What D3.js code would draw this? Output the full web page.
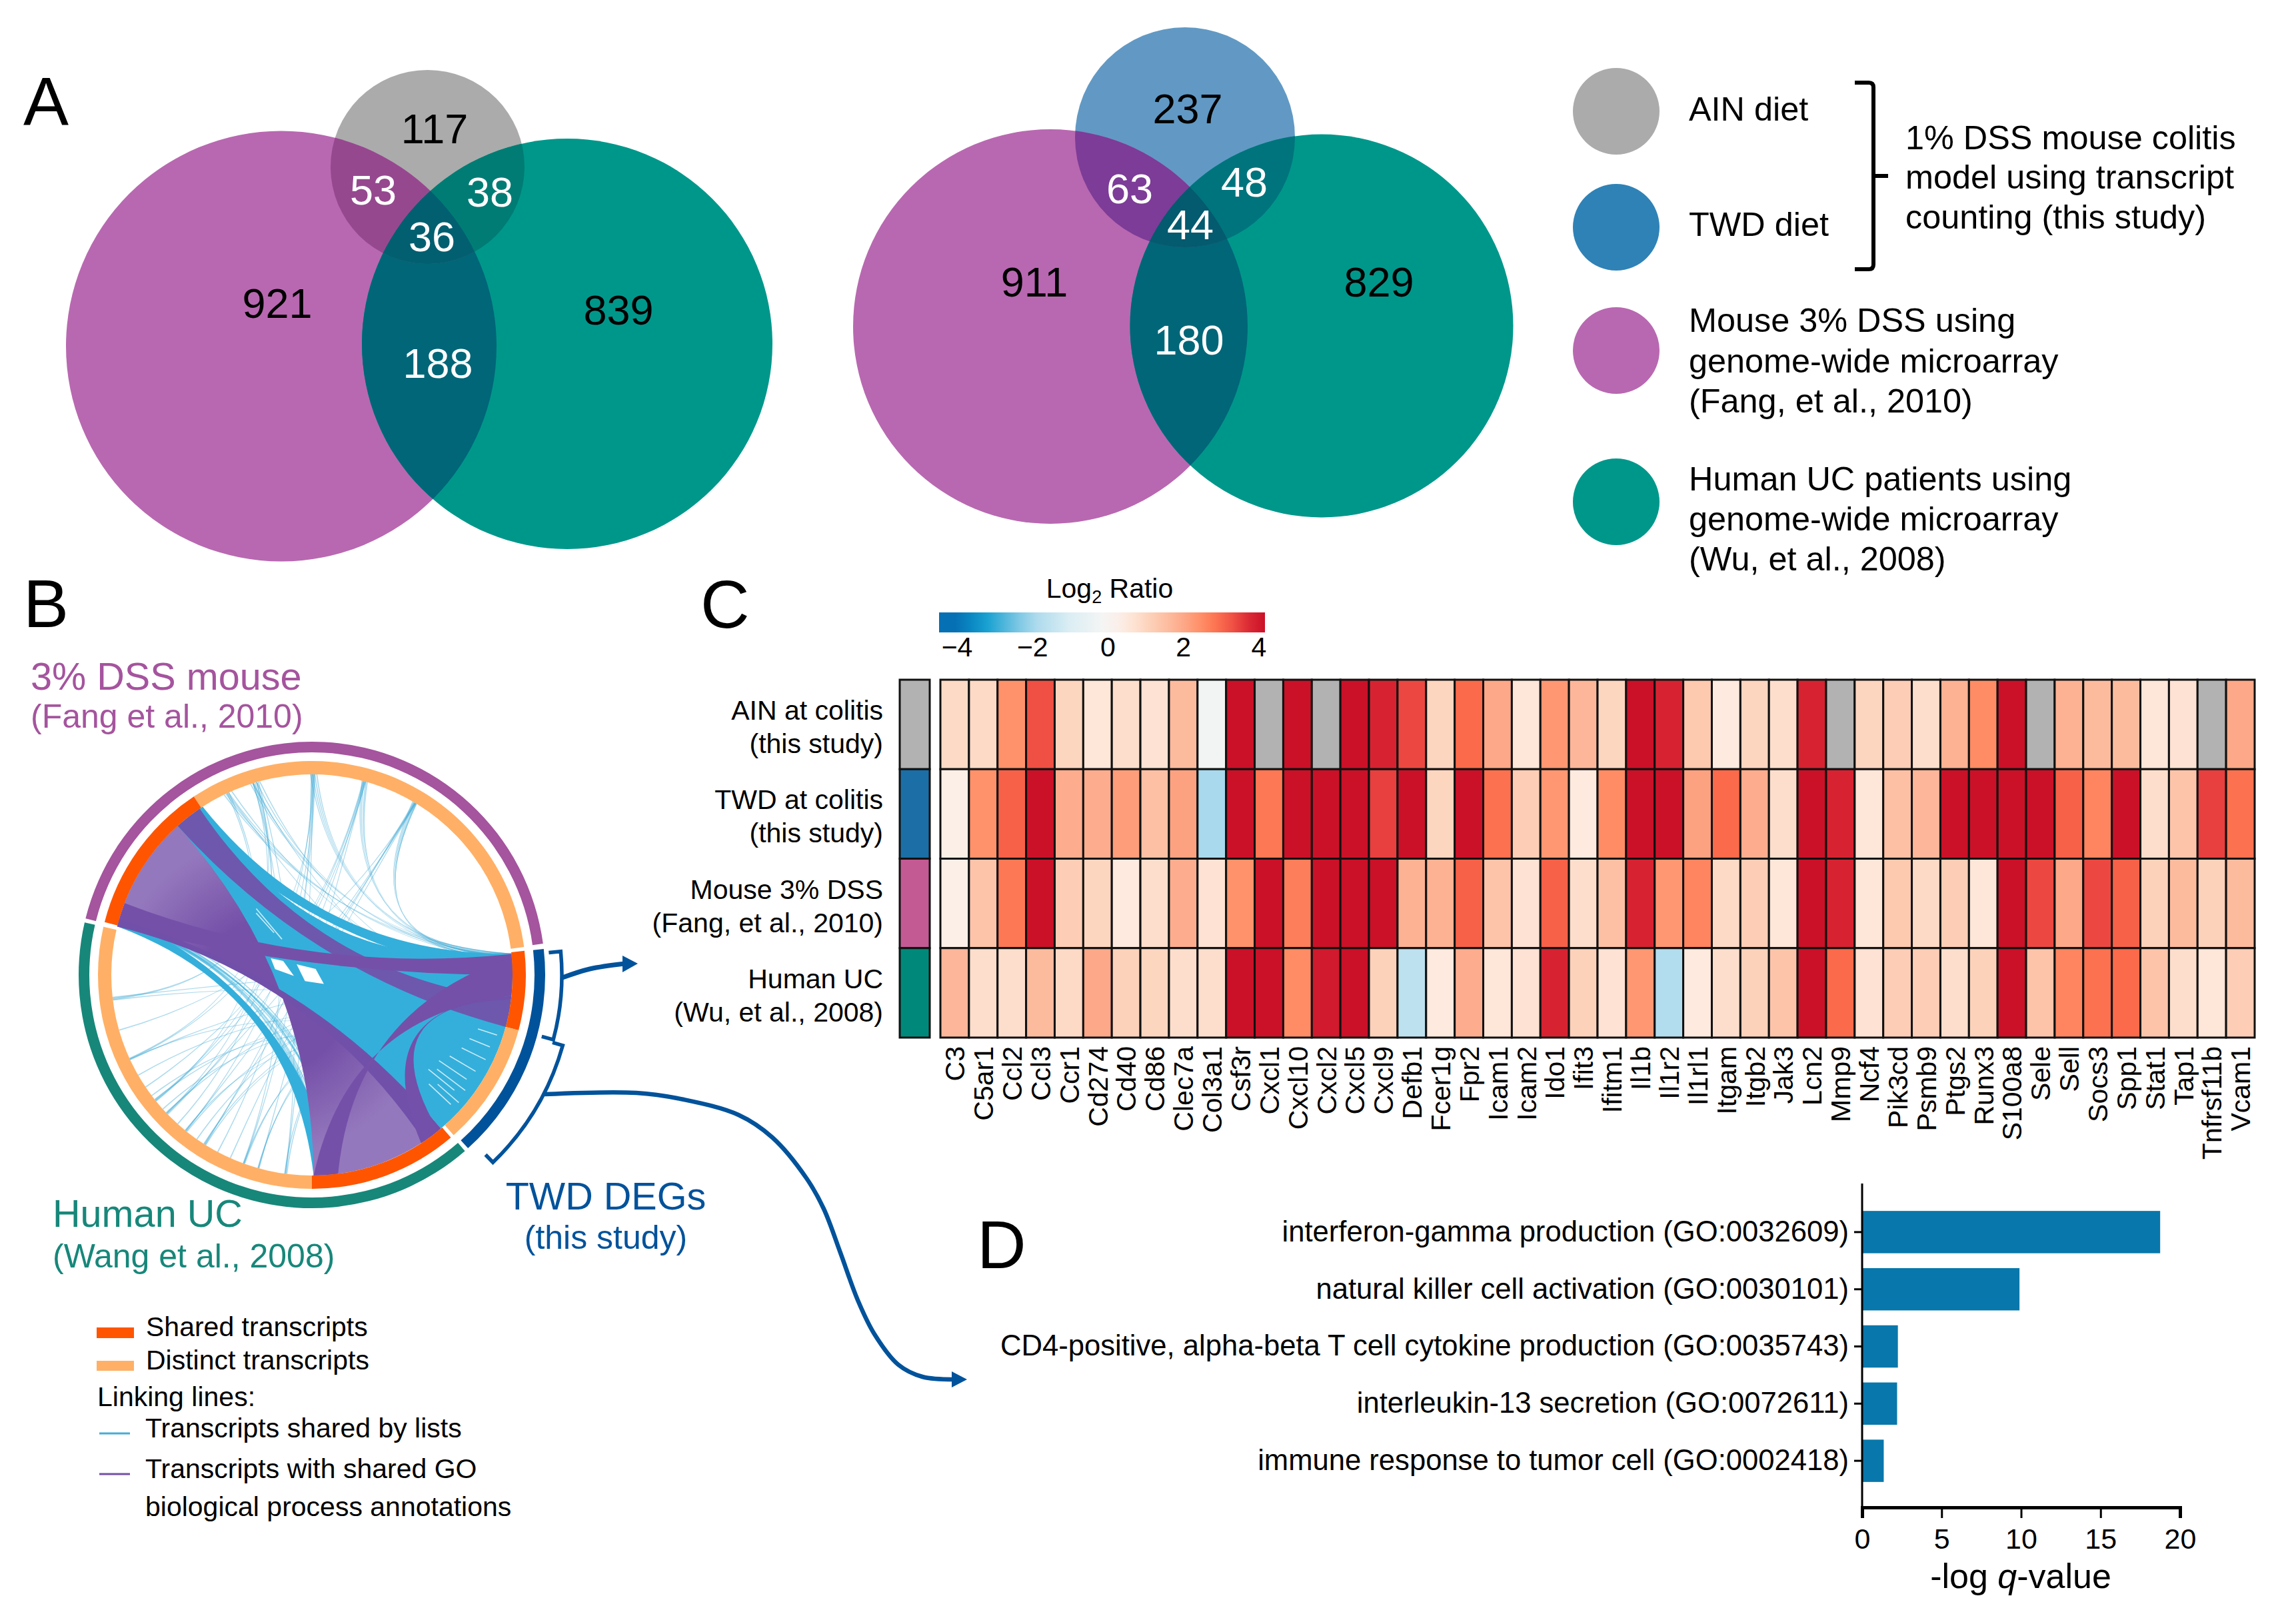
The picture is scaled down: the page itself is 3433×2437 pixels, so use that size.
<!DOCTYPE html>
<html><head><meta charset="utf-8">
<script src="https://cdn.jsdelivr.net/npm/d3@7"></script>
<style>
html,body{margin:0;padding:0;background:#fff}
svg{display:block}
text{font-family:"Liberation Sans",Arial,sans-serif;fill:#000}
</style></head><body>
<div id="chart"></div>
<script>
// ---------- Panel C data ----------
const genes=["C3","C5ar1","Ccl2","Ccl3","Ccr1","Cd274","Cd40","Cd86","Clec7a","Col3a1","Csf3r","Cxcl1","Cxcl10","Cxcl2","Cxcl5","Cxcl9","Defb1","Fcer1g","Fpr2","Icam1","Icam2","Ido1","Ifit3","Ifitm1","Il1b","Il1r2","Il1rl1","Itgam","Itgb2","Jak3","Lcn2","Mmp9","Ncf4","Pik3cd","Psmb9","Ptgs2","Runx3","S100a8","Sele","Sell","Socs3","Spp1","Stat1","Tap1","Tnfrsf11b","Vcam1"];
const ainValues=[0.9,0.9,2.4,3.3,1.0,0.6,0.8,0.7,1.6,-0.2,4,null,4,null,4,3.8,3.4,1.0,3.0,2.0,0.6,2.3,1.7,1.0,4,3.8,1.3,0.5,1.0,0.8,3.8,null,1.0,1.2,0.8,1.8,2.5,4,null,1.8,1.6,1.6,0.6,0.7,null,2.0];
const twdValues=[0.3,2.4,3.1,4,1.9,1.9,2.2,1.5,2.1,-2,4,2.8,4,4,4,3.5,4,1.0,4,2.9,1.2,2.3,0.5,2.5,4,4,2.1,3.0,1.9,0.8,4,3.8,0.6,1.5,1.7,4,4,4,4,3.1,2.6,4,0.8,1.4,3.5,2.9];
const mouseValues=[0.3,1.4,2.8,4,1.2,1.0,0.5,0.8,1.9,0.7,2.4,4,2.7,4,4,4,1.8,1.8,3.1,1.4,0.7,3.1,0.8,1.5,3.8,2.3,2.6,0.9,1.2,0.6,4,3.8,0.6,1.3,0.9,1.2,0.6,4,3.4,2.0,3.4,3.1,1.1,1.6,1.1,1.6];
const humanValues=[1.7,0.8,0.8,1.6,0.9,2.0,1.1,1.0,0.8,0.8,4,4,2.5,3.9,4,1.1,-1.6,0.5,1.9,0.6,0.7,3.8,1.1,0.7,2.3,-1.8,0.5,0.8,1.1,1.4,4,3.0,0.7,1.2,1.2,0.8,1.1,4,1.4,2.6,2.9,3.0,1.4,0.8,0.6,1.2];
const heatRows=["AIN","TWD","Mouse","Human"];
const heatSeries=[ainValues,twdValues,mouseValues,humanValues];
const heatRowLabels=[["AIN at colitis","(this study)"],["TWD at colitis","(this study)"],["Mouse 3% DSS","(Fang, et al., 2010)"],["Human UC","(Wu, et al., 2008)"]];
const heatRowColors=["#b2b2b2","#1b6fa6","#c45a94","#00897b"];
const colorStops=[-4,-3.3,-2,-1,0,0.5,1,1.5,2,2.5,3,3.5,4];
const colorRange=["#0670b4","#0d9dcf","#a8d9ec","#dceef4","#f8f6f4","#feeadf","#fdd6c0","#fdc0a4","#fda888","#ff8c64","#fb6a4a","#e83f3f","#cb1128"];
const legendTicks=[-4,-2,0,2,4];

// ---------- Panel D data ----------
const goTerms=["interferon-gamma production (GO:0032609)","natural killer cell activation (GO:0030101)","CD4-positive, alpha-beta T cell cytokine production (GO:0035743)","interleukin-13 secretion (GO:0072611)","immune response to tumor cell (GO:0002418)"];
const goValues=[18.75,9.9,2.25,2.2,1.36];
const goTicks=[0,5,10,15,20];

// ---------- Panel A data ----------
const vennLeftLabels=["921","839","117","53","38","188","36"];
const vennRightLabels=["911","829","237","63","48","180","44"];

// ---------- Panel B data (angles in degrees, clockwise from top) ----------
const ringInner=[[326.5,442.5,"#ffb066"],[284.3,326.5,"#ff5500"],[83.5,105,"#ff5500"],[105,138.5,"#ffb066"],[139.5,180,"#ff5500"],[180,283,"#ffb066"]];
const ringOuter=[[284,442.3,"#a5549e"],[139,283,"#17877a"],[83.6,138,"#00529b"]];
// thin links: [source, target]
const thinTop=[[359.6,84],[0.2,85],[0.8,86],[1.4,84.5],[14.5,84],[15,85],[15.6,86],[16,84.5],[30.2,84],[30.6,84.5],[31,85],[31.3,86],[31.4,84.2],[342.2,84],[342.8,85],[344,86],[344.9,100],[343,110],[334,84],[334.6,85],[335.4,86],[336.4,100],[335,120]];
const thinLeft=[[263.3,344],[263.6,85],[262.8,100],[263,335],[245.2,0.4],[245.2,120],[245,90],[245.4,343],[231.2,15],[231,335.5],[231.6,110],[231.4,0],[226.3,31],[226.6,90],[226,15.5],[226.4,344],[218.9,0.6],[219.2,130],[218.6,100],[219,31],[212.2,15.2],[212.6,105],[212,115],[212.4,30.6],[199.8,359.8],[200,343],[199.6,100],[199.9,125],[195.3,15.4],[195.6,110],[195.5,90],[187.5,0.2],[187.8,120],[187.2,95],[187.6,344.5],[254,30.9],[236,14.8],[222,343.5],[208,0.8],[204,31.2],[240,105],[215,90],[228,115],[233,128]];
// lace strands between the left cyan band and the purple fan: [source, target, bend]
const laceLinks=[[285,170,0.03],[285.4,171.5,0.05],[285.8,173,0.02],[286.2,174.5,0.06],[286.6,172,0.04],[287,175.5,0.08],[285.2,176,0.05],[286,177,0.07],[286.8,169,0.02],[285.6,168,0.04]];
// wide links: [a0,a1,b0,b1,bend]
const cyanLinks=[[284,327,84,140,0],[322,327,84,90,0.11],[284,287,173,179.5,0.13]];
const fanLink=[284,318,179.5,140,0];
const purpleLinks=[[318,326,97,105,0,"#6d58ae"],[284,291,84,90,0,"#7550a8"],[284,286,140,146,0,"#7150aa"],[85,96,179.5,172.5,0.27,"#7550a8"],[96,97,141,147,0.3,"#7350aa"]];
// white streaks [angle,r0,r1]
const whiteStreaks=[[120.5,240,285],[124,230,280],[127,235,288],[129,225,275],[131,250,292],[133,240,285],[116,250,290],[112,255,288],[108,262,292],[320,70,130],[318,85,125]];
const holeOne=[[292,66.6],[296,48],[267,27],[279,56]];
const holeTwo=[[305,28],[32,10.6],[127,22.5],[228,14]];

// ---------- Canvas ----------
const W=3433,H=2437;
const svg=d3.select("#chart").append("svg").attr("width",W).attr("height",H).attr("viewBox",`0 0 ${W} ${H}`);
const defs=svg.append("defs");
const txt=(g,x,y,s,size,opts={})=>{const t=g.append("text").attr("x",x).attr("y",y).attr("font-size",size).text(s);
  if(opts.anchor)t.attr("text-anchor",opts.anchor); if(opts.fill)t.style("fill",opts.fill); return t;};

// Panel letters
[["A",35,188],["B",35,941],["C",1051,942],["D",1466,1903]].forEach(d=>txt(svg,d[1],d[2],d[0],102));

// ---------- Venn ----------
function venn(id,P,T,Q,cols,labels,pos){
  const g=svg.append("g");
  const clip=(name,c)=>defs.append("clipPath").attr("id",id+name).append("circle").attr("cx",c[0]).attr("cy",c[1]).attr("r",c[2]);
  clip("P",P);clip("T",T);clip("Q",Q);
  const circ=(gg,c,f)=>gg.append("circle").attr("cx",c[0]).attr("cy",c[1]).attr("r",c[2]).attr("fill",f);
  circ(g,Q,cols.q);circ(g,P,cols.p);circ(g,T,cols.t);
  circ(g.append("g").attr("clip-path",`url(#${id}P)`),T,cols.pt);
  circ(g.append("g").attr("clip-path",`url(#${id}Q)`),P,cols.pq);
  circ(g.append("g").attr("clip-path",`url(#${id}Q)`),T,cols.tq);
  circ(g.append("g").attr("clip-path",`url(#${id}Q)`).append("g").attr("clip-path",`url(#${id}P)`),T,cols.all);
  labels.forEach((s,i)=>txt(g,pos[i][0],pos[i][1],s,63,{anchor:"middle",fill:i<3?"#000":"#fff"}));
}
venn("a",[422,519.5,323],[851,516,308],[641.5,250.5,145.5],
  {p:"#b868b0",t:"#00978b",q:"#ababab",pt:"#006678",pq:"#96488f",tq:"#007c75",all:"#025f70"},
  vennLeftLabels,[[416,477],[928,487],[652,215],[560,307],[735,310],[657,567],[648,377]]);
venn("b",[1576,490,296],[1983,489,287.5],[1778,206,165],
  {p:"#b868b0",t:"#00978b",q:"#6199c4",pt:"#006678",pq:"#7c3c97",tq:"#00747c",all:"#045a6e"},
  vennRightLabels,[[1552,445],[2069,445],[1782,185],[1695,305],[1867,295],[1784,532],[1786,359]]);

// Venn legend
const lg=svg.append("g");
[[167,"#ababab"],[341,"#2f82b6"],[526,"#b868b0"],[753,"#00978b"]].forEach(d=>lg.append("circle").attr("cx",2425).attr("cy",d[0]).attr("r",65).attr("fill",d[1]));
[["AIN diet",181],["TWD diet",354],["Mouse 3% DSS using",498],["genome-wide microarray",559],["(Fang, et al., 2010)",619],["Human UC patients using",736],["genome-wide microarray",796],["(Wu, et al., 2008)",856]].forEach(d=>txt(lg,2534,d[1],d[0],50.4));
[["1% DSS mouse colitis",224],["model using transcript",283],["counting (this study)",343]].forEach(d=>txt(lg,2859,d[1],d[0],50.4));
lg.append("path").attr("d","M2783,124 H2804 Q2811,124 2811,131 V397 Q2811,404 2804,404 H2783 M2811,264 H2833").attr("fill","none").attr("stroke","#000").attr("stroke-width",6);

// ---------- Chord ----------
const R=301, rad=d=>d*Math.PI/180;
const cg=svg.append("g").attr("transform","translate(468,1463)");
const polar=(a,r)=>[r*Math.sin(rad(a)),-r*Math.cos(rad(a))];
function ctrl(a,b,k){ if(!k) return [0,0]; const A=polar(a,1),B=polar(b,1),x=A[0]+B[0],y=A[1]+B[1],n=Math.hypot(x,y)||1; return [k*R*x/n,k*R*y/n]; }
function ribbon(a0,a1,b0,b1,k){
  const p=d3.path(),A0=polar(a0,R),B0=polar(b0,R);
  p.moveTo(A0[0],A0[1]);
  p.arc(0,0,R,rad(a0)-Math.PI/2,rad(a1)-Math.PI/2,a1<a0);
  let c=ctrl(a1,b0,k); p.quadraticCurveTo(c[0],c[1],B0[0],B0[1]);
  p.arc(0,0,R,rad(b0)-Math.PI/2,rad(b1)-Math.PI/2,b1<b0);
  c=ctrl(b1,a0,k); p.quadraticCurveTo(c[0],c[1],A0[0],A0[1]);
  p.closePath(); return p.toString();
}
const fanGrad=defs.append("radialGradient").attr("id","fan").attr("gradientUnits","userSpaceOnUse").attr("cx",-60).attr("cy",30).attr("r",300);
[[0,"#7550a8"],[0.38,"#7550a8"],[0.8,"#9478bd"]].forEach(s=>fanGrad.append("stop").attr("offset",s[0]).attr("stop-color",s[1]));
const thinG=cg.append("g").attr("fill","#3fa9d4").attr("fill-opacity",0.42);
thinTop.forEach(d=>thinG.append("path").attr("d",ribbon(d[0]-0.17,d[0]+0.17,d[1]-0.17,d[1]+0.17,0.2)));
thinLeft.forEach(d=>thinG.append("path").attr("d",ribbon(d[0]-0.17,d[0]+0.17,d[1]-0.17,d[1]+0.17,0)));
const laceG=cg.append("g").attr("fill","#34afdb").attr("fill-opacity",0.45);
laceLinks.forEach(d=>laceG.append("path").attr("d",ribbon(d[0]-0.3,d[0]+0.3,d[1]-0.4,d[1]+0.4,d[2])));
cyanLinks.forEach(d=>cg.append("path").attr("d",ribbon(d[0],d[1],d[2],d[3],d[4])).attr("fill","#34afdb"));
const radial=d3.lineRadial().angle(d=>rad(d[0])).radius(d=>d[1]);
whiteStreaks.forEach(d=>cg.append("path").attr("d",radial([[d[0],d[1]],[d[0],d[2]]])).attr("stroke","#fff").attr("stroke-width",1.6).attr("stroke-opacity",0.75).attr("fill","none"));
[holeOne,holeTwo].forEach(h=>cg.append("path").attr("d",d3.lineRadial().angle(d=>rad(d[0])).radius(d=>d[1]).curve(d3.curveLinearClosed)(h)).attr("fill","#fff"));
cg.append("path").attr("d",ribbon(...fanLink)).attr("fill","url(#fan)");
purpleLinks.forEach(d=>cg.append("path").attr("d",ribbon(d[0],d[1],d[2],d[3],d[4])).attr("fill",d[5]));
const arc=d3.arc();
ringInner.forEach(d=>cg.append("path").attr("d",arc({innerRadius:301,outerRadius:321,startAngle:rad(d[0]),endAngle:rad(d[1])})).attr("fill",d[2]));
ringOuter.forEach(d=>cg.append("path").attr("d",arc({innerRadius:334,outerRadius:350,startAngle:rad(d[0]),endAngle:rad(d[1])})).attr("fill",d[2]));
// brackets (polar)
const blue="#00529b";
function bracket(a0,a1,r,rin){const p=d3.path(),A=polar(a0,rin),B=polar(a0,r),D=polar(a1,rin);
  p.moveTo(A[0],A[1]);p.lineTo(B[0],B[1]);p.arc(0,0,r,rad(a0)-Math.PI/2,rad(a1)-Math.PI/2);p.lineTo(D[0],D[1]);return p.toString();}
cg.append("path").attr("d",bracket(84.6,105,375,357)).attr("fill","none").attr("stroke",blue).attr("stroke-width",5.5);
cg.append("path").attr("d",bracket(105.7,136,391,375)).attr("fill","none").attr("stroke",blue).attr("stroke-width",5.5);
// arrows
const arrowLine=d3.line().curve(d3.curveCatmullRom.alpha(0.5));
svg.append("path").attr("d",arrowLine([[844,1467],[885,1454],[938,1446]])).attr("fill","none").attr("stroke",blue).attr("stroke-width",7);
svg.append("path").attr("d","M934,1434 L957,1446 L934,1459 Z").attr("fill",blue);
svg.append("path").attr("d",arrowLine([[817,1642],[955,1640],[1026,1650],[1108,1673],[1159,1707],[1210,1768],[1236,1814],[1261,1880],[1287,1951],[1312,2002],[1348,2048],[1384,2066],[1432,2070]])).attr("fill","none").attr("stroke",blue).attr("stroke-width",6.5);
svg.append("path").attr("d","M1428,2058 L1451,2070 L1428,2082 Z").attr("fill",blue);
// chord labels
txt(svg,46,1035,"3% DSS mouse",57.6,{fill:"#a5549e"});
txt(svg,46,1092,"(Fang et al., 2010)",50,{fill:"#a5549e"});
txt(svg,79,1841,"Human UC",57.6,{fill:"#17877a"});
txt(svg,79,1902,"(Wang et al., 2008)",50,{fill:"#17877a"});
txt(svg,909,1815,"TWD DEGs",57.6,{fill:blue,anchor:"middle"});
txt(svg,909,1874,"(this study)",50,{fill:blue,anchor:"middle"});
// chord legend
svg.append("rect").attr("x",145).attr("y",1992).attr("width",56).attr("height",16).attr("fill","#ff5500");
svg.append("rect").attr("x",145).attr("y",2042).attr("width",56).attr("height",15).attr("fill","#ffb066");
svg.append("line").attr("x1",149).attr("x2",195).attr("y1",2151).attr("y2",2151).attr("stroke","#45add6").attr("stroke-width",3);
svg.append("line").attr("x1",149).attr("x2",195).attr("y1",2212).attr("y2",2212).attr("stroke","#7550a8").attr("stroke-width",3);
[["Shared transcripts",219,2005],["Distinct transcripts",219,2055],["Linking lines:",146,2110],["Transcripts shared by lists",218,2157],["Transcripts with shared GO",218,2218],["biological process annotations",218,2275]].forEach(d=>txt(svg,d[1],d[2],d[0],41));

// ---------- Heatmap ----------
const color=d3.scaleLinear().domain(colorStops).range(colorRange).clamp(true);
const x=d3.scaleBand().domain(genes).range([1411,3383]);
const y=d3.scaleBand().domain(heatRows).range([1020,1557]);
const hg=svg.append("g");
heatSeries.forEach((vals,r)=>{
  vals.forEach((v,i)=>hg.append("rect").attr("x",x(genes[i])).attr("y",y(heatRows[r])).attr("width",x.bandwidth()).attr("height",y.bandwidth())
    .attr("fill",v===null?"#b2b2b2":color(v)).attr("stroke","#111").attr("stroke-width",3));
  hg.append("rect").attr("x",1350).attr("width",45).attr("y",y(heatRows[r])).attr("height",y.bandwidth()).attr("fill",heatRowColors[r]).attr("stroke","#111").attr("stroke-width",3);
  const cy=y(heatRows[r])+y.bandwidth()/2;
  txt(hg,1325,cy-7,heatRowLabels[r][0],41,{anchor:"end"});
  txt(hg,1325,cy+43,heatRowLabels[r][1],41,{anchor:"end"});
});
const xAxisG=svg.append("g").attr("transform","translate(0,1557)").call(d3.axisBottom(x).tickSize(0));
xAxisG.select(".domain").remove();
xAxisG.selectAll("text").attr("font-size",41).attr("font-family",null).attr("text-anchor","end").attr("transform","rotate(-90)").attr("x",-13).attr("y",0).attr("dy","0.36em");

// Colour legend
const lx=d3.scaleLinear().domain([-4,4]).range([1436,1889]);
const grad=defs.append("linearGradient").attr("id","lg");
d3.range(0,21).forEach(i=>{const px=1409+i*(1898-1409)/20; grad.append("stop").attr("offset",i/20).attr("stop-color",color(lx.invert(px)));});
svg.append("rect").attr("x",1409).attr("y",919).attr("width",489).attr("height",30).attr("fill","url(#lg)");
const ltitle=txt(svg,1665,897,"Log",41,{anchor:"middle"});
ltitle.append("tspan").attr("font-size",27).attr("dy",8).text("2");
ltitle.append("tspan").attr("dy",-8).text(" Ratio");
legendTicks.forEach(t=>txt(svg,lx(t),985,String(t).replace("-","\u2212"),41,{anchor:"middle"}));

// ---------- Bars ----------
const bx=d3.scaleLinear().domain([0,20]).range([2794,3271]);
const by=d3.scaleBand().domain(goTerms).range([1806,2235]).paddingInner(0.26).paddingOuter(0.13);
const bg=svg.append("g");
bg.selectAll("rect").data(goTerms).join("rect").attr("x",bx(0)).attr("y",d=>by(d)).attr("width",(d,i)=>bx(goValues[i])-bx(0)).attr("height",by.bandwidth()).attr("fill","#0877ab");
const yax=svg.append("g").attr("transform","translate(2794,0)").call(d3.axisLeft(by).tickSize(12).tickPadding(8));
yax.select(".domain").attr("d","M0,1776V2262").attr("stroke","#000").attr("stroke-width",3);
yax.selectAll(".tick line").attr("stroke-width",3);
yax.selectAll("text").attr("font-size",43.6).attr("font-family",null);
const xax=svg.append("g").attr("transform","translate(0,2262)").call(d3.axisBottom(bx).tickValues(goTicks).tickSize(16).tickPadding(15));
xax.select(".domain").attr("stroke-width",5);
xax.selectAll(".tick line").attr("stroke-width",3);
xax.selectAll("text").attr("font-size",43).attr("font-family",null);
const at=txt(svg,3032,2383,"-log ",52,{anchor:"middle"});
at.append("tspan").attr("font-style","italic").text("q");
at.append("tspan").text("-value");
</script>
</body></html>
